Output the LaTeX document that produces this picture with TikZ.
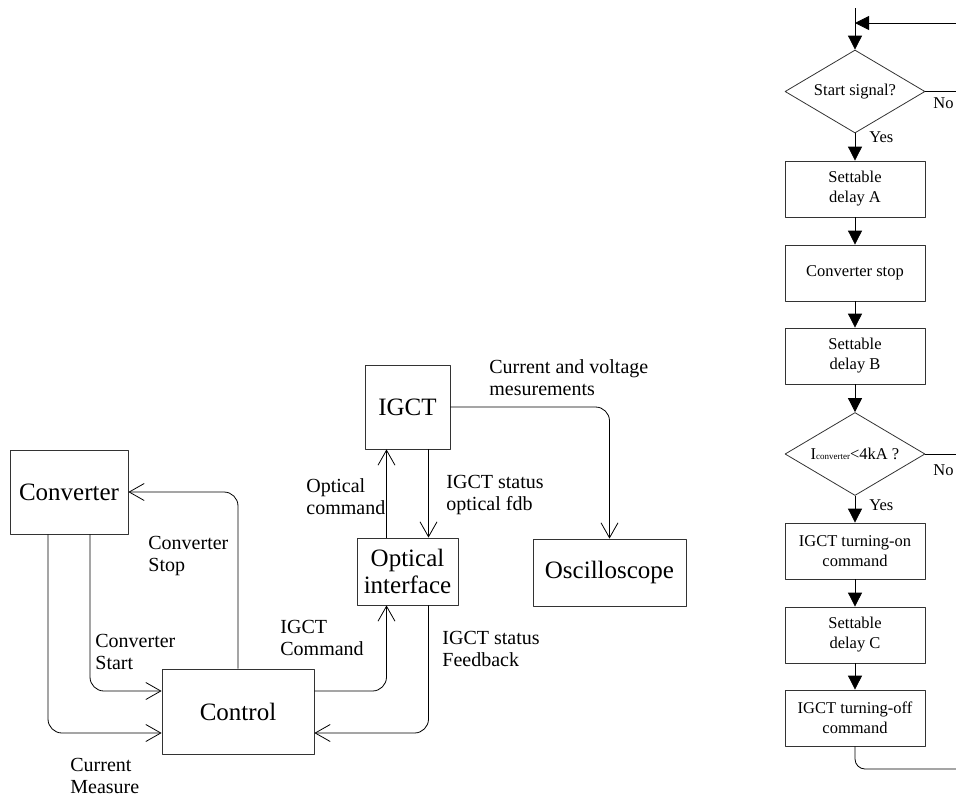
\documentclass[tikz,border=0pt]{standalone}
\usepackage{fontspec}
\setmainfont{Liberation Serif}
\usetikzlibrary{arrows.meta,shapes.geometric}

\begin{document}
\begin{tikzpicture}[x=1pt, y=-1pt, line join=round, line width=0.8pt,
	>={Straight Barb[length=15pt,width=17pt]},
	khoi/.style={draw=black!80, inner sep=2pt, align=center, font=\fontsize{25}{27}\selectfont},
	nhan/.style={anchor=west, inner sep=0pt, align=left, font=\fontsize{20}{22}\selectfont},
	hop/.style={draw=black!80, minimum width=140, minimum height=56, inner sep=1pt, align=center, font=\fontsize{16.5}{20}\selectfont},
	hoi/.style={diamond, draw=black!80, aspect=1.7, minimum width=140, minimum height=83, inner sep=0pt, font=\fontsize{16.5}{20}\selectfont},
	chu/.style={inner sep=0pt, font=\fontsize{16.5}{20}\selectfont},
	tam/.style={-{Triangle[length=14pt,width=14pt]}}]
	\useasboundingbox (0,0) rectangle (956,796);
	\def\xf{855} % flowchart axis
	% block diagram
	\node[khoi, minimum width=118, minimum height=84] (conv) at (69,492) {Converter};
	\node[khoi, minimum width=152, minimum height=85] (ctrl) at (238,711.5) {Control};
	\node[khoi, minimum width=85, minimum height=84] (igct) at (407.5,407) {IGCT};
	\node[khoi, minimum width=101, minimum height=67] (opt) at (407.5,571.5) {Optical\\interface};
	\node[khoi, minimum width=153, minimum height=67] (osc) at (609.5,572.5) {Oscilloscope};
	\draw[->, rounded corners=14] (ctrl.north) |- (conv.east);
	\draw[->, rounded corners=14] ([xshift=21pt]conv.south) |- ([yshift=20.5pt]ctrl.west);
	\draw[->, rounded corners=14] ([xshift=-21pt]conv.south) |- ([yshift=-21.5pt]ctrl.west);
	\draw[->, rounded corners=14] ([yshift=20.5pt]ctrl.east) -| ([xshift=-21pt]opt.south);
	\draw[->, rounded corners=14] ([xshift=21pt]opt.south) |- ([yshift=-21.5pt]ctrl.east);
	\draw[->] ([xshift=-21pt]opt.north) -- ([xshift=-21pt]igct.south);
	\draw[->] ([xshift=21pt]igct.south) -- ([xshift=21pt]opt.north);
	\draw[->, rounded corners=14] (igct.east) -| (osc.north);
	\node[nhan] (lstop) at (148,556) {Converter\\Stop};
	\node[nhan] (lstart) at (95,652) {Converter\\Start};
	\node[nhan] (lmeas) at (70,776) {Current\\Measure};
	\node[nhan] (lcmd) at (280,638) {IGCT\\Command};
	\node[nhan] (lfdb) at (442,649) {IGCT status\\Feedback};
	\node[nhan] (lopt) at (306,497) {Optical\\command};
	\node[nhan] (lstat) at (446,495) {IGCT status\\optical fdb};
	\node[nhan] (lmes) at (489,378) {Current and voltage\\mesurements};
	% flowchart
	\coordinate (dau) at (\xf,8);
	\coordinate (vao) at (\xf,23);
	\coordinate (ve) at (956,23);
	\node[hoi] (hoi1) at (\xf,91.5) {Start signal?};
	\node[hop] (trA) at (\xf,189) {Settable\\delay A};
	\node[hop] (dung) at (\xf,273) {Converter stop};
	\node[hop] (trB) at (\xf,356) {Settable\\delay B};
	\node[hoi] (hoi2) at (\xf,454) {I{\fontsize{9}{9}\selectfont converter}<4kA ?};
	\node[hop] (bat) at (\xf,551) {IGCT turning-on\\command};
	\node[hop] (trC) at (\xf,635) {Settable\\delay C};
	\node[hop] (tat) at (\xf,718) {IGCT turning-off\\command};
	\coordinate (ra1) at (956,91.5);
	\coordinate (ra2) at (956,454);
	\coordinate (cuoi) at (956,769);
	\draw[tam] (dau) -- (hoi1.north);
	\draw[tam] (ve) -- (vao);
	\draw (hoi1.east) -- (ra1);
	\draw (hoi2.east) -- (ra2);
	\draw[tam] (hoi1.south) -- (trA.north);
	\draw[tam] (trA.south) -- (dung.north);
	\draw[tam] (dung.south) -- (trB.north);
	\draw[tam] (trB.south) -- (hoi2.north);
	\draw[tam] (hoi2.south) -- (bat.north);
	\draw[tam] (bat.south) -- (trC.north);
	\draw[tam] (trC.south) -- (tat.north);
	\draw[rounded corners=10] (tat.south) |- (cuoi);
	\node[chu, anchor=west] (no1) at (933,103) {No};
	\node[chu, anchor=west] (yes1) at (869,137) {Yes};
	\node[chu, anchor=west] (no2) at (933,470) {No};
	\node[chu, anchor=west] (yes2) at (869,505) {Yes};
\end{tikzpicture}
\end{document}
